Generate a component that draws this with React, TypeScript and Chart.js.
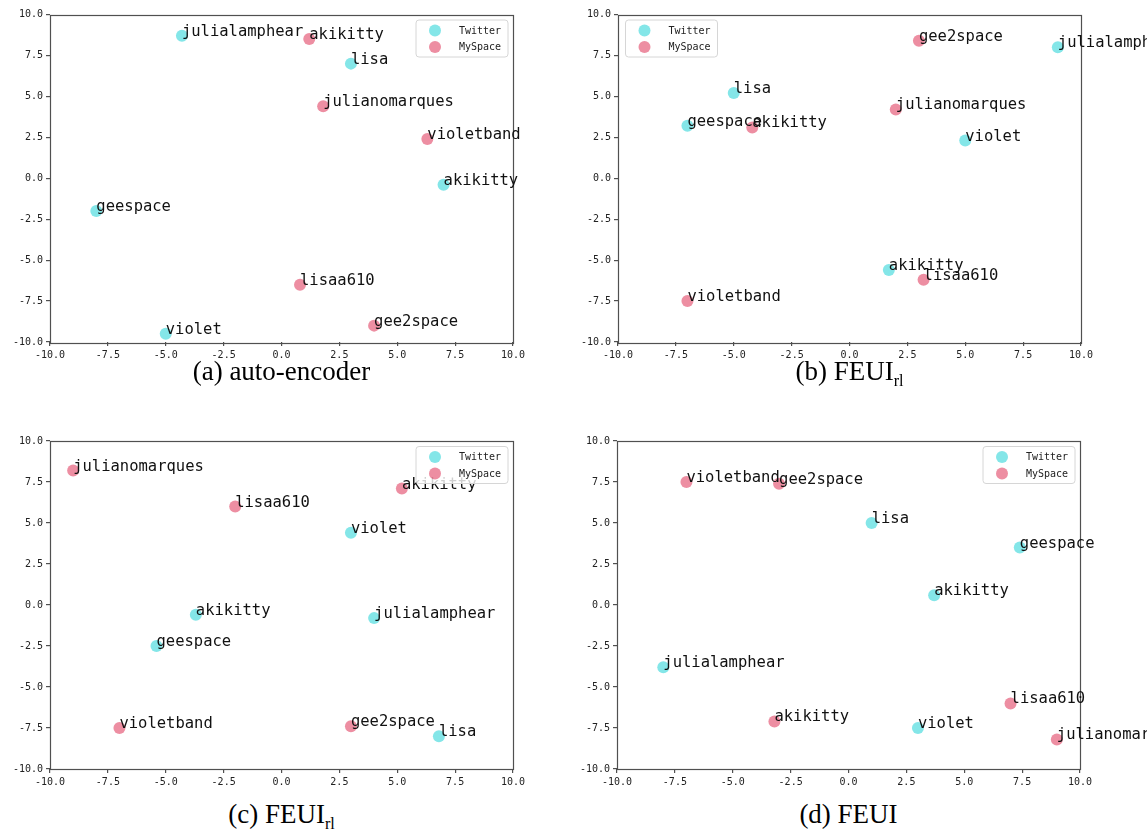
import React, { useEffect, useRef } from 'react';
import { Chart, registerables } from 'chart.js';

Chart.register(...registerables);

// ---------- data ----------
const seriesNames = ['Twitter', 'MySpace'];
const seriesColors = ['rgba(10, 205, 210, 0.5)', 'rgba(220, 30, 70, 0.5)'];
const tickValues = [-10, -7.5, -5, -2.5, 0, 2.5, 5, 7.5, 10];

// (a) auto-encoder
const aTwitterNames = ['julialamphear', 'lisa', 'akikitty', 'geespace', 'violet'];
const aTwitterX = [-4.3, 3.0, 7.0, -8.0, -5.0];
const aTwitterY = [8.7, 7.0, -0.4, -2.0, -9.5];
const aMySpaceNames = ['akikitty', 'julianomarques', 'violetband', 'lisaa610', 'gee2space'];
const aMySpaceX = [1.2, 1.8, 6.3, 0.8, 4.0];
const aMySpaceY = [8.5, 4.4, 2.4, -6.5, -9.0];

// (b) FEUI_rl
const bTwitterNames = ['julialamphear', 'lisa', 'geespace', 'violet', 'akikitty'];
const bTwitterX = [9.0, -5.0, -7.0, 5.0, 1.7];
const bTwitterY = [8.0, 5.2, 3.2, 2.3, -5.6];
const bMySpaceNames = ['gee2space', 'julianomarques', 'akikitty', 'lisaa610', 'violetband'];
const bMySpaceX = [3.0, 2.0, -4.2, 3.2, -7.0];
const bMySpaceY = [8.4, 4.2, 3.1, -6.2, -7.5];

// (c) FEUI_rl
const cTwitterNames = ['violet', 'akikitty', 'julialamphear', 'geespace', 'lisa'];
const cTwitterX = [3.0, -3.7, 4.0, -5.4, 6.8];
const cTwitterY = [4.4, -0.6, -0.8, -2.5, -8.0];
const cMySpaceNames = ['julianomarques', 'lisaa610', 'akikitty', 'violetband', 'gee2space'];
const cMySpaceX = [-9.0, -2.0, 5.2, -7.0, 3.0];
const cMySpaceY = [8.2, 6.0, 7.1, -7.5, -7.4];

// (d) FEUI
const dTwitterNames = ['lisa', 'geespace', 'akikitty', 'julialamphear', 'violet'];
const dTwitterX = [1.0, 7.4, 3.7, -8.0, 3.0];
const dTwitterY = [5.0, 3.5, 0.6, -3.8, -7.5];
const dMySpaceNames = ['violetband', 'gee2space', 'akikitty', 'lisaa610', 'julianomarques'];
const dMySpaceX = [-7.0, -3.0, -3.2, 7.0, 9.0];
const dMySpaceY = [7.5, 7.4, -7.1, -6.0, -8.2];

type Series = { names: string[]; xs: number[]; ys: number[] };

const MONO = '"DejaVu Sans Mono", "Liberation Mono", monospace';
const AXIS_COLOR = '#505050';

type Geo = { left: number; top: number; width: number; height: number; pl: number; pr: number; pt: number; pb: number };

function Panel(props: { series: Series[]; geo: Geo; legendSide: 'left' | 'right' }) {
  const ref = useRef<HTMLCanvasElement | null>(null);
  const { series, geo, legendSide } = props;

  useEffect(() => {
    const canvas = ref.current;
    if (!canvas) return;
    const xAxisH = 21;

    const overlay = {
      id: 'overlay',
      afterDatasetsDraw(chart: any) {
        const { ctx, chartArea: ca, scales } = chart;
        const xs = scales.x;
        const ys = scales.y;
        ctx.save();
        // frame (all four spines)
        ctx.strokeStyle = AXIS_COLOR;
        ctx.lineWidth = 1.2;
        ctx.strokeRect(Math.round(ca.left) + 0.5, Math.round(ca.top) + 0.5, Math.round(ca.right - ca.left), Math.round(ca.bottom - ca.top));
        // point annotations
        ctx.font = '15.5px ' + MONO;
        ctx.fillStyle = '#111';
        ctx.textAlign = 'left';
        ctx.textBaseline = 'alphabetic';
        series.forEach((s) => {
          s.names.forEach((n, i) => {
            ctx.fillText(n, xs.getPixelForValue(s.xs[i]), ys.getPixelForValue(s.ys[i]));
          });
        });
        // legend box
        const lw = 92;
        const lh = 37;
        const lx = legendSide === 'right' ? ca.right - 5 - lw : ca.left + 7.5;
        const ly = ca.top + 5.5;
        ctx.beginPath();
        (ctx as any).roundRect(lx, ly, lw, lh, 3);
        ctx.fillStyle = 'rgba(255,255,255,0.8)';
        ctx.fill();
        ctx.strokeStyle = '#d6d6d6';
        ctx.lineWidth = 1;
        ctx.stroke();
        ctx.font = '10px ' + MONO;
        ctx.textBaseline = 'middle';
        seriesNames.forEach((name, k) => {
          const yy = ly + 10.5 + k * 16.5;
          ctx.beginPath();
          ctx.arc(lx + 19, yy, 6, 0, Math.PI * 2);
          ctx.fillStyle = seriesColors[k];
          ctx.fill();
          ctx.fillStyle = '#222';
          ctx.fillText(name, lx + 43, yy + 0.5);
        });
        ctx.restore();
      },
    };

    const axisCommon = {
      type: 'linear' as const,
      min: -10,
      max: 10,
      afterBuildTicks: (scale: any) => {
        scale.ticks = tickValues.map((v) => ({ value: v }));
      },
      ticks: {
        callback: (v: any) => Number(v).toFixed(1),
        font: { family: MONO, size: 10 },
        color: '#222',
        padding: 3,
        autoSkip: false,
        maxRotation: 0,
      },
      grid: { drawOnChartArea: false, drawTicks: true, tickLength: 4, color: AXIS_COLOR, lineWidth: 1.2 },
      border: { display: false },
    };

    const chart = new Chart(canvas, {
      type: 'scatter',
      data: {
        datasets: series.map((s, k) => ({
          label: seriesNames[k],
          data: s.xs.map((x, i) => ({ x, y: s.ys[i] })),
          backgroundColor: seriesColors[k],
          borderWidth: 0,
          pointRadius: 6,
          pointHoverRadius: 6,
        })),
      },
      options: {
        responsive: false,
        animation: false,
        devicePixelRatio: 1,
        events: [],
        layout: { padding: { left: 0, right: geo.width - geo.pr, top: geo.pt, bottom: geo.height - geo.pb - xAxisH } },
        plugins: { legend: { display: false }, tooltip: { enabled: false } },
        scales: {
          x: { ...axisCommon, position: 'bottom', afterFit: (s: any) => { s.height = xAxisH; } },
          y: { ...axisCommon, position: 'left', afterFit: (s: any) => { s.width = geo.pl; } },
        },
      } as any,
      plugins: [overlay],
    });
    return () => chart.destroy();
  }, []);

  return (
    <canvas
      ref={ref}
      width={geo.width}
      height={geo.height}
      style={{ position: 'absolute', left: geo.left, top: geo.top, width: geo.width, height: geo.height }}
    />
  );
}

function Caption(props: { cx: number; top: number; main: string; sub?: string }) {
  return (
    <div
      style={{
        position: 'absolute',
        left: props.cx - 150,
        top: props.top,
        width: 300,
        textAlign: 'center',
        fontFamily: '"Liberation Serif", "Times New Roman", serif',
        fontSize: 27,
        lineHeight: '27px',
        color: '#000',
        whiteSpace: 'nowrap',
      }}
    >
      {props.main}
      {props.sub ? (
        <span style={{ fontSize: '0.6em', position: 'relative', top: '0.35em' }}>{props.sub}</span>
      ) : null}
    </div>
  );
}

export default function App() {
  const A: Series[] = [
    { names: aTwitterNames, xs: aTwitterX, ys: aTwitterY },
    { names: aMySpaceNames, xs: aMySpaceX, ys: aMySpaceY },
  ];
  const B: Series[] = [
    { names: bTwitterNames, xs: bTwitterX, ys: bTwitterY },
    { names: bMySpaceNames, xs: bMySpaceX, ys: bMySpaceY },
  ];
  const C: Series[] = [
    { names: cTwitterNames, xs: cTwitterX, ys: cTwitterY },
    { names: cMySpaceNames, xs: cMySpaceX, ys: cMySpaceY },
  ];
  const D: Series[] = [
    { names: dTwitterNames, xs: dTwitterX, ys: dTwitterY },
    { names: dMySpaceNames, xs: dMySpaceX, ys: dMySpaceY },
  ];
  return (
    <div style={{ position: 'absolute', left: 0, top: 0, width: 1147, height: 831, background: '#fff', overflow: 'hidden' }}>
      <Panel series={A} legendSide="right" geo={{ left: 0, top: 0, width: 570, height: 364, pl: 50, pr: 513, pt: 14.5, pb: 342 }} />
      <Panel series={B} legendSide="left" geo={{ left: 570, top: 0, width: 577, height: 364, pl: 48, pr: 511, pt: 14.5, pb: 342 }} />
      <Panel series={C} legendSide="right" geo={{ left: 0, top: 420, width: 570, height: 372, pl: 50, pr: 513, pt: 21, pb: 349 }} />
      <Panel series={D} legendSide="right" geo={{ left: 570, top: 420, width: 577, height: 372, pl: 47, pr: 510, pt: 21, pb: 349 }} />
      <Caption cx={281.5} top={358} main="(a) auto-encoder" />
      <Caption cx={849.5} top={358} main="(b) FEUI" sub="rl" />
      <Caption cx={281.5} top={801} main="(c) FEUI" sub="rl" />
      <Caption cx={848.5} top={801} main="(d) FEUI" />
    </div>
  );
}
